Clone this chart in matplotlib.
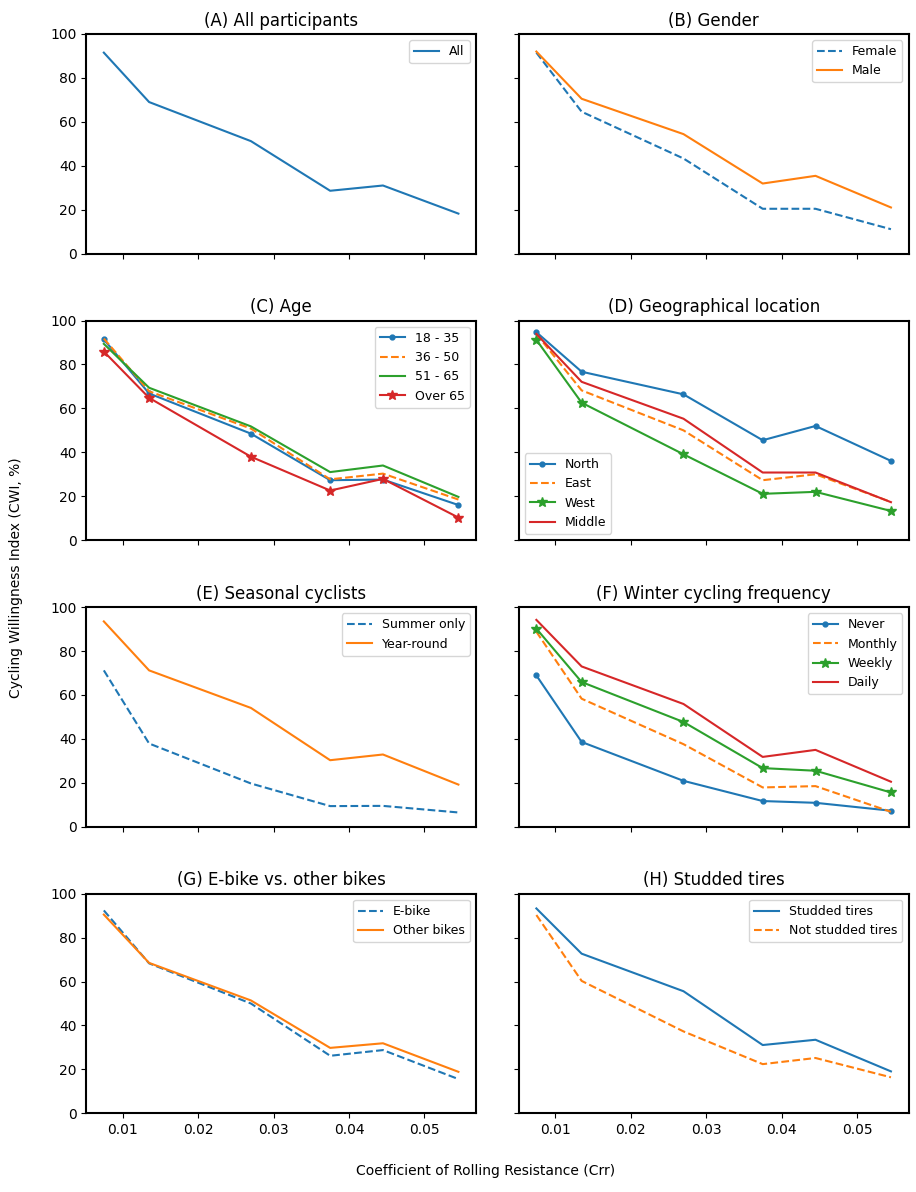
import numpy as np
import matplotlib
matplotlib.use("Agg")
import matplotlib.pyplot as plt

# rolling resistance coefficients (x axis)
crr = [0.0075, 0.0135, 0.027, 0.0375, 0.0445, 0.0545]

# (A) all participants
all_cwi = [91.5, 69.0, 51.2, 28.6, 31.0, 18.2]

# (B) gender
female = [91.5, 64.6, 43.3, 20.4, 20.4, 11.1]
male = [92.0, 70.5, 54.4, 31.9, 35.4, 21.0]

# (C) age
age_18_35 = [91.4, 66.8, 48.5, 27.3, 27.6, 16.0]
age_36_50 = [91.8, 67.8, 50.8, 27.7, 30.3, 18.5]
age_51_65 = [89.4, 69.4, 51.8, 31.0, 34.0, 19.7]
age_over_65 = [85.9, 64.8, 38.0, 22.6, 27.9, 10.3]

# (D) geographical location
north = [94.7, 76.7, 66.4, 45.5, 52.0, 36.1]
east = [93.9, 68.2, 50.0, 27.3, 30.0, 17.4]
west = [91.2, 62.6, 39.1, 21.1, 22.0, 13.3]
middle = [93.9, 72.1, 55.3, 30.8, 30.8, 17.3]

# (E) seasonal cyclists
summer_only = [71.2, 37.9, 19.7, 9.4, 9.5, 6.5]
year_round = [93.5, 71.2, 54.1, 30.3, 32.9, 19.2]

# (F) winter cycling frequency
never = [68.9, 38.6, 20.9, 11.7, 10.9, 7.3]
monthly = [88.8, 58.3, 37.6, 17.9, 18.5, 6.8]
weekly = [90.2, 65.9, 47.7, 26.7, 25.5, 15.6]
daily = [94.2, 73.0, 55.9, 31.8, 35.0, 20.5]

# (G) e-bike vs other bikes
ebike = [92.4, 68.3, 50.0, 26.2, 28.8, 15.6]
other_bikes = [90.5, 68.5, 51.4, 29.8, 31.9, 18.9]

# (H) studded tires
studded = [93.3, 72.7, 55.6, 31.1, 33.5, 19.1]
not_studded = [90.3, 60.3, 37.3, 22.4, 25.2, 16.4]

C0, C1, C2, C3 = '#1f77b4', '#ff7f0e', '#2ca02c', '#d62728'

fig, axes = plt.subplots(4, 2, figsize=(9.16, 11.92), dpi=100, sharex=True, sharey=True)
plt.subplots_adjust(left=0.094, right=0.992, top=0.9715, bottom=0.066, hspace=0.305, wspace=0.109)

def finish(ax, title, loc='upper right'):
    ax.set_title(title, fontsize=12)
    ax.legend(loc=loc, fontsize=9)
    ax.set_ylim(0, 100)
    ax.tick_params(labelsize=10)
    for s in ax.spines.values():
        s.set_linewidth(1.5)

ax = axes[0, 0]
ax.plot(crr, all_cwi, color=C0, lw=1.5, label='All')
finish(ax, '(A) All participants')

ax = axes[0, 1]
ax.plot(crr, female, color=C0, ls='--', lw=1.5, label='Female')
ax.plot(crr, male, color=C1, lw=1.5, label='Male')
finish(ax, '(B) Gender')

ax = axes[1, 0]
ax.plot(crr, age_18_35, color=C0, lw=1.5, marker='.', ms=7, label='18 - 35')
ax.plot(crr, age_36_50, color=C1, ls='--', lw=1.5, label='36 - 50')
ax.plot(crr, age_51_65, color=C2, lw=1.5, label='51 - 65')
ax.plot(crr, age_over_65, color=C3, lw=1.5, marker='*', ms=7, label='Over 65')
finish(ax, '(C) Age')

ax = axes[1, 1]
ax.plot(crr, north, color=C0, lw=1.5, marker='.', ms=7, label='North')
ax.plot(crr, east, color=C1, ls='--', lw=1.5, label='East')
ax.plot(crr, west, color=C2, lw=1.5, marker='*', ms=7, label='West')
ax.plot(crr, middle, color=C3, lw=1.5, label='Middle')
finish(ax, '(D) Geographical location', loc='lower left')

ax = axes[2, 0]
ax.plot(crr, summer_only, color=C0, ls='--', lw=1.5, label='Summer only')
ax.plot(crr, year_round, color=C1, lw=1.5, label='Year-round')
finish(ax, '(E) Seasonal cyclists')

ax = axes[2, 1]
ax.plot(crr, never, color=C0, lw=1.5, marker='.', ms=7, label='Never')
ax.plot(crr, monthly, color=C1, ls='--', lw=1.5, label='Monthly')
ax.plot(crr, weekly, color=C2, lw=1.5, marker='*', ms=7, label='Weekly')
ax.plot(crr, daily, color=C3, lw=1.5, label='Daily')
finish(ax, '(F) Winter cycling frequency')

ax = axes[3, 0]
ax.plot(crr, ebike, color=C0, ls='--', lw=1.5, label='E-bike')
ax.plot(crr, other_bikes, color=C1, lw=1.5, label='Other bikes')
finish(ax, '(G) E-bike vs. other bikes')

ax = axes[3, 1]
ax.plot(crr, studded, color=C0, lw=1.5, label='Studded tires')
ax.plot(crr, not_studded, color=C1, ls='--', lw=1.5, label='Not studded tires')
finish(ax, '(H) Studded tires')

axes[0, 0].set_xticks([0.01, 0.02, 0.03, 0.04, 0.05])
axes[0, 0].set_yticks([0, 20, 40, 60, 80, 100])

fig.text(0.018, 0.515, 'Cycling Willingness Index (CWI, %)', rotation=90,
         ha='center', va='center', fontsize=10)
fig.text(0.53, 0.018, 'Coefficient of Rolling Resistance (Crr)',
         ha='center', va='center', fontsize=10)

fig.savefig('out.png', dpi=100)
